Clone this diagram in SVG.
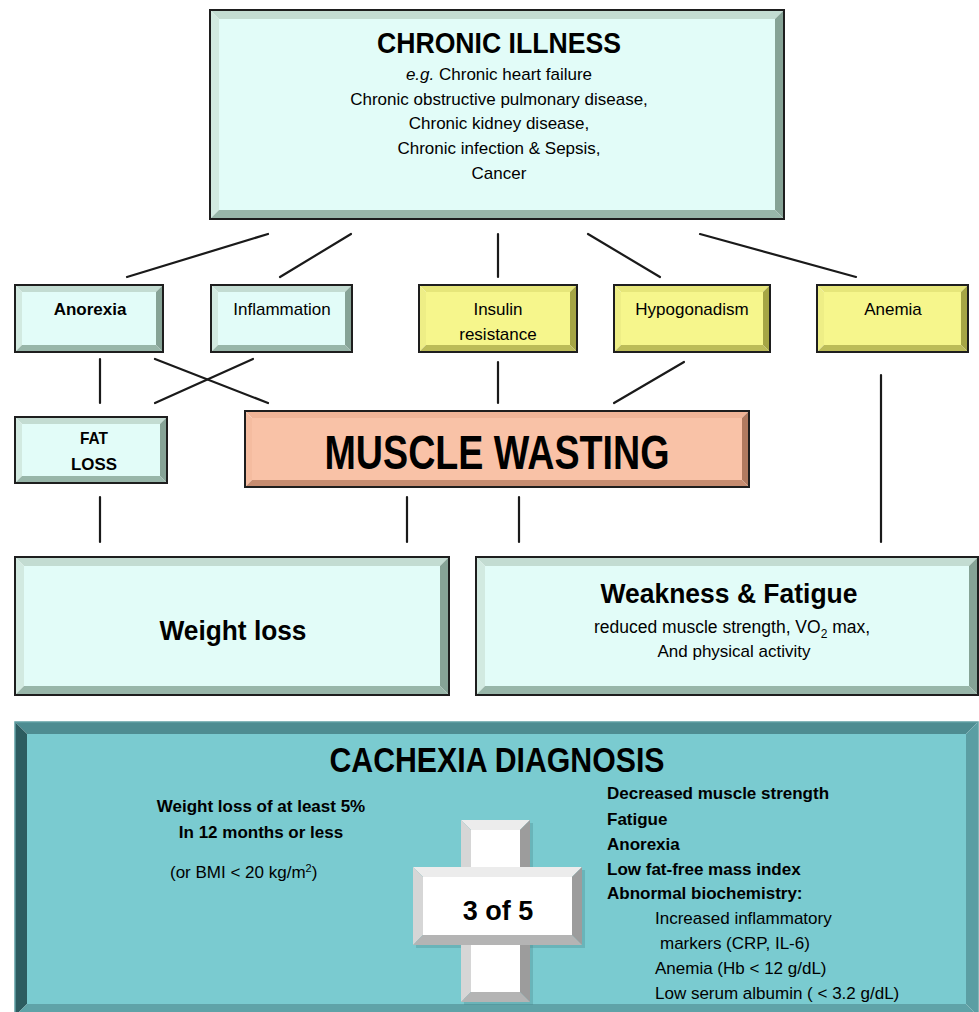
<svg xmlns="http://www.w3.org/2000/svg" width="979" height="1012" viewBox="0 0 979 1012" font-size="17">
<style>
.t{font-family:"Liberation Sans",Arial,Helvetica,sans-serif;fill:#000}
.b{font-weight:bold}
.c{text-anchor:middle}
.bd{fill:none;stroke:#1e1e1e;stroke-width:2}
.teal .face{fill:#e2fcf8}.teal .bt{fill:#c3dcd2}.teal .bl{fill:#d2eae1}.teal .br{fill:#86a396}.teal .bb{fill:#98b6a9}
.yel .face{fill:#f6f68c}.yel .bt{fill:#e6e67a}.yel .bl{fill:#eeee86}.yel .br{fill:#a5a545}.yel .bb{fill:#bcbc58}
.sal .face{fill:#f9c2a7}.sal .bt{fill:#f0b497}.sal .bl{fill:#f5bca0}.sal .br{fill:#b07a60}.sal .bb{fill:#c68c70}
.cax .face{fill:#7acbd0}.cax .bt{fill:#4e8c91}.cax .bl{fill:#2d5c60}.cax .br{fill:#5b9ea3}.cax .bb{fill:#5fa3a8}
.crs .face{fill:#ffffff}.crs .bt{fill:#ececec}.crs .bl{fill:#d6d6d6}.crs .br{fill:#9c9c9c}.crs .bb{fill:#b4b4b4}
.ln line{stroke:#1a1a1a;stroke-width:2.2;stroke-linecap:round}
</style>

<g id="chronic-illness" class="teal">
<polygon class="bt" points="210,10 784,10 775,19 219,19"/>
<polygon class="bl" points="210,10 219,19 219,210 210,219"/>
<polygon class="br" points="784,10 784,219 775,210 775,19"/>
<polygon class="bb" points="210,219 219,210 775,210 784,219"/>
<rect class="face" x="219" y="19" width="556" height="191"/>
<rect class="bd" x="210" y="10" width="574" height="209"/>
<text class="t b c" x="499" y="53" font-size="29" textLength="244" lengthAdjust="spacingAndGlyphs">CHRONIC ILLNESS</text>
<text class="t c" x="499" y="80"><tspan font-style="italic">e.g.</tspan> Chronic heart failure</text>
<text class="t c" x="499" y="105">Chronic obstructive pulmonary disease,</text>
<text class="t c" x="499" y="129">Chronic kidney disease,</text>
<text class="t c" x="499" y="154">Chronic infection &amp; Sepsis,</text>
<text class="t c" x="499" y="179">Cancer</text>
</g>

<g id="anorexia" class="teal">
<polygon class="bt" points="15,285 163,285 156,292 22,292"/>
<polygon class="bl" points="15,285 22,292 22,345 15,352"/>
<polygon class="br" points="163,285 163,352 156,345 156,292"/>
<polygon class="bb" points="15,352 22,345 156,345 163,352"/>
<rect class="face" x="22" y="292" width="134" height="53"/>
<rect class="bd" x="15" y="285" width="148" height="67"/>
<text class="t b c" x="90" y="315">Anorexia</text>
</g>

<g id="inflammation" class="teal">
<polygon class="bt" points="211,285 352,285 345,292 218,292"/>
<polygon class="bl" points="211,285 218,292 218,345 211,352"/>
<polygon class="br" points="352,285 352,352 345,345 345,292"/>
<polygon class="bb" points="211,352 218,345 345,345 352,352"/>
<rect class="face" x="218" y="292" width="127" height="53"/>
<rect class="bd" x="211" y="285" width="141" height="67"/>
<text class="t c" x="282" y="315">Inflammation</text>
</g>

<g id="insulin-resistance" class="yel">
<polygon class="bt" points="419,285 577,285 570,292 426,292"/>
<polygon class="bl" points="419,285 426,292 426,345 419,352"/>
<polygon class="br" points="577,285 577,352 570,345 570,292"/>
<polygon class="bb" points="419,352 426,345 570,345 577,352"/>
<rect class="face" x="426" y="292" width="144" height="53"/>
<rect class="bd" x="419" y="285" width="158" height="67"/>
<text class="t c" x="498" y="315">Insulin</text>
<text class="t c" x="498" y="340">resistance</text>
</g>

<g id="hypogonadism" class="yel">
<polygon class="bt" points="614,285 770,285 763,292 621,292"/>
<polygon class="bl" points="614,285 621,292 621,345 614,352"/>
<polygon class="br" points="770,285 770,352 763,345 763,292"/>
<polygon class="bb" points="614,352 621,345 763,345 770,352"/>
<rect class="face" x="621" y="292" width="142" height="53"/>
<rect class="bd" x="614" y="285" width="156" height="67"/>
<text class="t c" x="692" y="315">Hypogonadism</text>
</g>

<g id="anemia" class="yel">
<polygon class="bt" points="817,285 968,285 961,292 824,292"/>
<polygon class="bl" points="817,285 824,292 824,345 817,352"/>
<polygon class="br" points="968,285 968,352 961,345 961,292"/>
<polygon class="bb" points="817,352 824,345 961,345 968,352"/>
<rect class="face" x="824" y="292" width="137" height="53"/>
<rect class="bd" x="817" y="285" width="151" height="67"/>
<text class="t c" x="893" y="315">Anemia</text>
</g>

<g id="fat-loss" class="teal">
<polygon class="bt" points="15,417 167,417 160,424 22,424"/>
<polygon class="bl" points="15,417 22,424 22,476 15,483"/>
<polygon class="br" points="167,417 167,483 160,476 160,424"/>
<polygon class="bb" points="15,483 22,476 160,476 167,483"/>
<rect class="face" x="22" y="424" width="138" height="52"/>
<rect class="bd" x="15" y="417" width="152" height="66"/>
<text class="t b c" x="94" y="444" font-size="17" textLength="28" lengthAdjust="spacingAndGlyphs">FAT</text>
<text class="t b c" x="94" y="470" font-size="17" textLength="46" lengthAdjust="spacingAndGlyphs">LOSS</text>
</g>

<g id="muscle-wasting" class="sal">
<polygon class="bt" points="245,411 749,411 742,418 252,418"/>
<polygon class="bl" points="245,411 252,418 252,480 245,487"/>
<polygon class="br" points="749,411 749,487 742,480 742,418"/>
<polygon class="bb" points="245,487 252,480 742,480 749,487"/>
<rect class="face" x="252" y="418" width="490" height="62"/>
<rect class="bd" x="245" y="411" width="504" height="76"/>
<text class="t b c" x="497" y="469" font-size="48" textLength="345" lengthAdjust="spacingAndGlyphs">MUSCLE WASTING</text>
</g>

<g id="weight-loss" class="teal">
<polygon class="bt" points="15,557 449,557 440,566 24,566"/>
<polygon class="bl" points="15,557 24,566 24,686 15,695"/>
<polygon class="br" points="449,557 449,695 440,686 440,566"/>
<polygon class="bb" points="15,695 24,686 440,686 449,695"/>
<rect class="face" x="24" y="566" width="416" height="120"/>
<rect class="bd" x="15" y="557" width="434" height="138"/>
<text class="t b c" x="233" y="640" font-size="27" textLength="147" lengthAdjust="spacingAndGlyphs">Weight loss</text>
</g>

<g id="weakness-fatigue" class="teal">
<polygon class="bt" points="476,557 978,557 969,566 485,566"/>
<polygon class="bl" points="476,557 485,566 485,686 476,695"/>
<polygon class="br" points="978,557 978,695 969,686 969,566"/>
<polygon class="bb" points="476,695 485,686 969,686 978,695"/>
<rect class="face" x="485" y="566" width="484" height="120"/>
<rect class="bd" x="476" y="557" width="502" height="138"/>
<text class="t b c" x="729" y="603" font-size="28" textLength="257" lengthAdjust="spacingAndGlyphs">Weakness &amp; Fatigue</text>
<text class="t" x="594" y="633" font-size="17.5">reduced muscle strength, VO<tspan font-size="12" dy="5">2</tspan><tspan dy="-5"> max,</tspan></text>
<text class="t c" x="734" y="657">And physical activity</text>
</g>

<g id="connectors" class="ln">
<line x1="268" y1="234" x2="127" y2="277"/>
<line x1="351" y1="234" x2="280" y2="277"/>
<line x1="498" y1="234" x2="498" y2="277"/>
<line x1="588" y1="234" x2="660" y2="277"/>
<line x1="700" y1="234" x2="856" y2="277"/>
<line x1="100" y1="359" x2="100" y2="403"/>
<line x1="155" y1="359" x2="268" y2="403"/>
<line x1="253" y1="359" x2="155" y2="403"/>
<line x1="498" y1="362" x2="498" y2="403"/>
<line x1="684" y1="362" x2="614" y2="403"/>
<line x1="881" y1="375" x2="881" y2="542"/>
<line x1="100" y1="497" x2="100" y2="542"/>
<line x1="407" y1="497" x2="407" y2="542"/>
<line x1="519" y1="497" x2="519" y2="542"/>
</g>

<g id="cachexia-diagnosis" class="cax">
<polygon class="bt" points="15,722 978,722 966,734 27,734"/>
<polygon class="bl" points="15,722 27,734 27,1004 15,1016"/>
<polygon class="br" points="978,722 978,1016 966,1004 966,734"/>
<polygon class="bb" points="15,1016 27,1004 966,1004 978,1016"/>
<rect class="face" x="27" y="734" width="939" height="270"/>
<rect x="15" y="722" width="963" height="294" fill="none" stroke="#5f9ea3" stroke-width="1.5"/>
<text class="t b c" x="497" y="772" font-size="35" textLength="335" lengthAdjust="spacingAndGlyphs">CACHEXIA DIAGNOSIS</text>
<text class="t b c" x="261" y="812">Weight loss of at least 5%</text>
<text class="t b c" x="261" y="838">In 12 months or less</text>
<text class="t" x="170" y="878">(or BMI &lt; 20 kg/m<tspan font-size="11" dy="-6">2</tspan><tspan dy="6">)</tspan></text>
<text class="t b" x="607" y="799">Decreased muscle strength</text>
<text class="t b" x="607" y="825">Fatigue</text>
<text class="t b" x="607" y="850">Anorexia</text>
<text class="t b" x="607" y="875">Low fat-free mass index</text>
<text class="t b" x="607" y="899">Abnormal biochemistry:</text>
<text class="t" x="655" y="924">Increased inflammatory</text>
<text class="t" x="660" y="949">markers (CRP, IL-6)</text>
<text class="t" x="655" y="974">Anemia (Hb &lt; 12 g/dL)</text>
<text class="t" x="655" y="999">Low serum albumin ( &lt; 3.2 g/dL)</text>
</g>

<g id="three-of-five" class="crs">
<rect x="464" y="823" width="69" height="182" fill="#4a8a8f" opacity="0.35"/>
<rect x="416" y="870" width="169" height="78" fill="#4a8a8f" opacity="0.35"/>
<polygon class="bt" points="461,820 530,820 520,830 471,830"/>
<polygon class="bl" points="461,820 471,830 471,992 461,1002"/>
<polygon class="br" points="530,820 530,1002 520,992 520,830"/>
<polygon class="bb" points="461,1002 471,992 520,992 530,1002"/>
<rect class="face" x="471" y="830" width="49" height="162"/>
<polygon class="bt" points="413,867 582,867 572,877 423,877"/>
<polygon class="bl" points="413,867 423,877 423,935 413,945"/>
<polygon class="br" points="582,867 582,945 572,935 572,877"/>
<polygon class="bb" points="413,945 423,935 572,935 582,945"/>
<rect class="face" x="423" y="877" width="149" height="58"/>
<text class="t b c" x="498" y="920" font-size="27">3 of 5</text>
</g>
</svg>
